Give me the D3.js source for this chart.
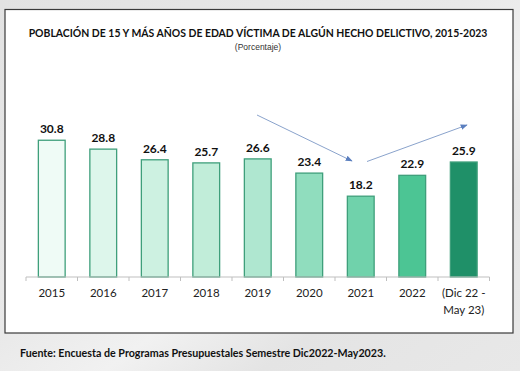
<!DOCTYPE html>
<html><head><meta charset="utf-8">
<script src="https://cdn.jsdelivr.net/npm/d3@7/dist/d3.min.js"></script>
<style>body{margin:0;padding:0;overflow:hidden;}svg{display:block;}</style>
</head><body>
<script>
const categories = ["2015","2016","2017","2018","2019","2020","2021","2022","(Dic 22 -|May 23)"];
const values = [30.8,28.8,26.4,25.7,26.6,23.4,18.2,22.9,25.9];
const barColors = ["#effbf6","#ddf6eb","#cdf1e1","#c1edd9","#afe7d0","#90ddbe","#70d2ab","#4cc594","#1f9068"];
const title = "POBLACIÓN DE 15 Y MÁS AÑOS DE EDAD VÍCTIMA DE ALGÚN HECHO DELICTIVO, 2015-2023";
const subtitle = "(Porcentaje)";
const source = "Fuente: Encuesta de Programas Presupuestales Semestre Dic2022-May2023.";

const W = 520, H = 371;
const svg = d3.select("body").append("svg").attr("width", W).attr("height", H);
const defs = svg.append("defs");
const bg = defs.append("linearGradient").attr("id","bg").attr("x1","0").attr("y1","0").attr("x2","1").attr("y2","1");
bg.append("stop").attr("offset","0").attr("stop-color","#e2e2e2");
bg.append("stop").attr("offset","0.45").attr("stop-color","#e9e9e9");
bg.append("stop").attr("offset","0.6").attr("stop-color","#f1f1f1");
bg.append("stop").attr("offset","0.75").attr("stop-color","#e4e4e4");
bg.append("stop").attr("offset","1").attr("stop-color","#e8e8e8");
svg.append("rect").attr("width",W).attr("height",H).attr("fill","url(#bg)");

svg.append("rect").attr("x",5).attr("y",9.5).attr("width",508).attr("height",323.5)
  .attr("fill","#ffffff").attr("stroke","#3a3a3a").attr("stroke-width",1.2);

svg.append("text").attr("x",258).attr("y",37).attr("text-anchor","middle")
  .attr("font-family","Lato, 'Open Sans', sans-serif").attr("font-weight","bold")
  .attr("font-size",10.45).attr("fill","#111").text(title);
svg.append("text").attr("x",258).attr("y",50).attr("text-anchor","middle")
  .attr("font-family","'Liberation Sans Narrow', 'Liberation Sans', sans-serif")
  .attr("font-size",8.5).attr("fill","#333").text(subtitle);

const x = d3.scaleBand().domain(categories).range([26, 489.5]).paddingInner(0.48).paddingOuter(0.24);
const y = d3.scaleLinear().domain([0, 35]).range([277, 277 - 35*4.44]);

const g = svg.append("g");
g.selectAll("rect.bar").data(values).enter().append("rect")
  .attr("x",(d,i)=>x(categories[i])).attr("width",x.bandwidth())
  .attr("y",d=>y(d)).attr("height",d=>y(0)-y(d))
  .attr("fill",(d,i)=>barColors[i]).attr("stroke","#3f9f7b").attr("stroke-width",1.3);

g.selectAll("text.val").data(values).enter().append("text")
  .attr("x",(d,i)=>x(categories[i])+x.bandwidth()/2).attr("y",d=>y(d)-7)
  .attr("text-anchor","middle").attr("font-family","Lato, 'Open Sans', sans-serif")
  .attr("font-weight","bold").attr("font-size",12).attr("fill","#111")
  .text(d=>d.toFixed(1));

const axis = d3.axisBottom(x).tickSize(0).tickFormat("");
const ax = svg.append("g").attr("transform","translate(0,277)").call(axis);
ax.select(".domain").attr("stroke","#bfbfbf").attr("d","M26,0H489.5");
ax.selectAll("line.b").data(d3.range(categories.length+1)).enter().append("line")
  .attr("x1",i=>26+i*x.step()).attr("x2",i=>26+i*x.step())
  .attr("y1",0).attr("y2",4).attr("stroke","#bfbfbf");

categories.forEach((c,i)=>{
  const lines = c.split("|");
  const t = svg.append("text").attr("text-anchor","middle")
    .attr("font-family","Lato, 'Open Sans', sans-serif").attr("font-size",11.5).attr("fill","#222");
  lines.forEach((l,j)=>{
    t.append("tspan").attr("x",x(c)+x.bandwidth()/2).attr("y",297+j*17).text(l);
  });
});

defs.append("marker").attr("id","ah").attr("viewBox","0 0 10 10").attr("refX",9).attr("refY",5)
  .attr("markerWidth",7).attr("markerHeight",7).attr("orient","auto")
  .append("path").attr("d","M0,1L10,5L0,9z").attr("fill","#5b7fbf");
const arrows = [[[257,115],[352,161]],[[367,161.5],[467,125]]];
arrows.forEach(a=>{
  svg.append("line").attr("x1",a[0][0]).attr("y1",a[0][1]).attr("x2",a[1][0]).attr("y2",a[1][1])
    .attr("stroke","#8aa3cc").attr("stroke-width",1).attr("marker-end","url(#ah)");
});

svg.append("text").attr("x",20).attr("y",357).attr("font-family","Lato, 'Open Sans', sans-serif")
  .attr("font-weight","bold").attr("font-size",10.7).attr("fill","#111").text(source);
</script>
</body></html>
